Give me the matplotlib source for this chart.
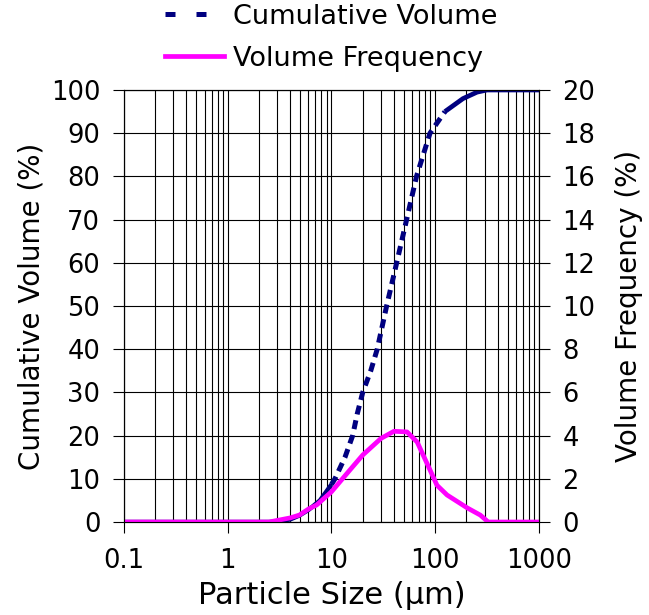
import numpy as np
import matplotlib.pyplot as plt
from matplotlib.lines import Line2D
from matplotlib.ticker import LogLocator, NullFormatter

# particle size (um) and cumulative volume (%)
size_cum = [0.1, 2.5, 3, 4, 4.9, 6, 7.75, 10, 10.8, 13.5, 16, 17.7, 20, 23.9,
            27.6, 34, 42.5, 53, 66, 89, 124, 185, 253, 316, 1000]
cum_volume = [0, 0, 0.1, 0.6, 1.5, 2.8, 5, 8.7, 10, 15, 20, 25, 30, 35,
              40, 50, 60, 70, 80, 90, 95, 98, 99.5, 100, 100]

# particle size (um) and volume frequency (%)
size_freq = [0.1, 2.5, 4, 4.9, 6, 7.2, 10, 15, 20, 30, 40, 53.5, 67, 83,
             104, 130, 204, 272, 324, 1000]
vol_freq = [0, 0, 0.19, 0.32, 0.6, 0.79, 1.4, 2.4, 3.1, 3.87, 4.2, 4.17, 3.7, 2.73,
            1.7, 1.25, 0.65, 0.32, 0, 0]

x_ticks = [0.1, 1, 10, 100, 1000]
x_tick_labels = ['0.1', '1', '10', '100', '1000']
left_ticks = list(range(0, 101, 10))
right_ticks = list(range(0, 21, 2))

navy = '#000080'
pink = '#FF00FF'

fig = plt.figure(figsize=(6.49, 6.15), dpi=100)
ax = fig.add_axes([0.191, 0.1512, 0.6395, 0.7025])
ax.set_xscale('log')
ax.set_xlim(0.1, 1000)
ax.set_ylim(0, 100)

# grid: every log minor line, every 10 % horizontally
ax.xaxis.set_minor_locator(LogLocator(base=10, subs=np.arange(2, 10)))
ax.xaxis.set_minor_formatter(NullFormatter())
ax.grid(which='both', axis='x', color='black', lw=0.8)
ax.grid(which='major', axis='y', color='black', lw=0.8)
ax.set_axisbelow(True)

# cumulative volume: dashed in the middle, dense (solid-looking) at the ends
sc = np.array(size_cum)
cv = np.array(cum_volume)
low = sc <= 10
mid = (sc >= 10) & (sc <= 124)
high = sc >= 124
ax.plot(sc[low], cv[low], color=navy, lw=3.2, solid_capstyle='butt')
ax.plot(sc[mid], cv[mid], color=navy, lw=3.6, dashes=(1.8, 1.2))
ax.plot(sc[high], cv[high], color=navy, lw=3.4, solid_capstyle='butt')

ax2 = ax.twinx()
ax2.set_ylim(0, 20)
ax2.plot(size_freq, vol_freq, color=pink, lw=3.4)

ax.set_xticks(x_ticks)
ax.set_xticklabels(x_tick_labels)
ax.set_yticks(left_ticks)
ax2.set_yticks(right_ticks)

ax.tick_params(axis='x', which='major', direction='out', length=8, width=0.8,
               pad=11, labelsize=18.5)
ax.tick_params(axis='x', which='minor', length=0)
ax.tick_params(axis='y', direction='out', length=8, width=0.8, pad=9, labelsize=18.5)
ax2.tick_params(axis='y', direction='out', length=8, width=0.8, pad=9, labelsize=18.5)

for a in (ax, ax2):
    for s in a.spines.values():
        s.set_color('black')
        s.set_linewidth(0.8)

ax.set_xlabel('Particle Size (µm)', fontsize=22, labelpad=5)
ax.set_ylabel('Cumulative Volume (%)', fontsize=20, labelpad=4)
ax2.set_ylabel('Volume Frequency (%)', fontsize=20, labelpad=14)

# legend above the plot
h_cum = Line2D([], [], color=navy, lw=3.6, dashes=(2, 4.2))
h_freq = Line2D([], [], color=pink, lw=3.4)
fig.legend([h_cum, h_freq], ['Cumulative Volume', 'Volume Frequency'],
           loc='upper left', bbox_to_anchor=(0.254, 0.994), frameon=False,
           fontsize=19.5, handlelength=2.2, handletextpad=0.3,
           labelspacing=0.6, borderpad=0, borderaxespad=0)

fig.savefig('out.png', dpi=100)
